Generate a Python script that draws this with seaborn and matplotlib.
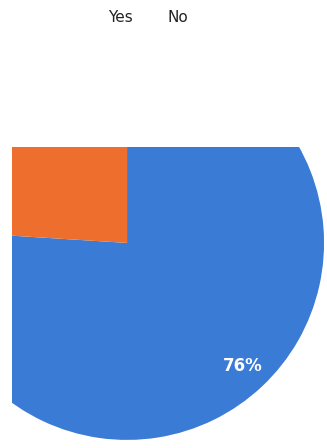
import matplotlib
matplotlib.use("Agg")
import matplotlib.pyplot as plt
import seaborn as sns

# Survey answers and their shares (percent)
answers = ["Yes", "No"]
shares = [76, 24]
slice_colors = ["#3A7BD5", "#EE6F2D"]

sns.set_theme(style="white")
plt.rcParams["font.family"] = ["DejaVu Sans"]
palette = sns.color_palette(slice_colors)

fig = plt.figure(figsize=(3.27, 4.48), dpi=100)
fig.patch.set_facecolor("white")

# Axes box cuts the pie on the left and top edges
ax = fig.add_axes([12 / 327, 0, 1 - 12 / 327, 301 / 448])
ax.set_facecolor("white")

wedges, texts, autotexts = ax.pie(
    shares,
    colors=palette,
    startangle=90,
    counterclock=False,
    autopct="%d%%",
    pctdistance=0.86,
    radius=1.0,
    wedgeprops=dict(linewidth=0),
    textprops=dict(color="white", fontsize=12, fontweight="bold"),
)

ax.set_aspect("auto")
ax.set_xlim(-0.584, 1.015)
ax.set_ylim(-1.041, 0.487)
ax.axis("off")

# Keep slices and percentage labels inside the axes box
for artist in list(wedges) + list(autotexts):
    artist.set_clip_on(True)
    artist.set_clip_box(ax.bbox)

fig.legend(
    wedges, answers,
    loc="center", bbox_to_anchor=(148 / 327, 1 - 17 / 448),
    ncol=2, frameon=False,
    handlelength=0, handletextpad=0, columnspacing=2.3,
    prop=dict(size=11),
    labelcolor="#222222",
)
for h in fig.legends[0].legend_handles:
    h.set_visible(False)

fig.savefig("out.png", dpi=100, facecolor="white")
